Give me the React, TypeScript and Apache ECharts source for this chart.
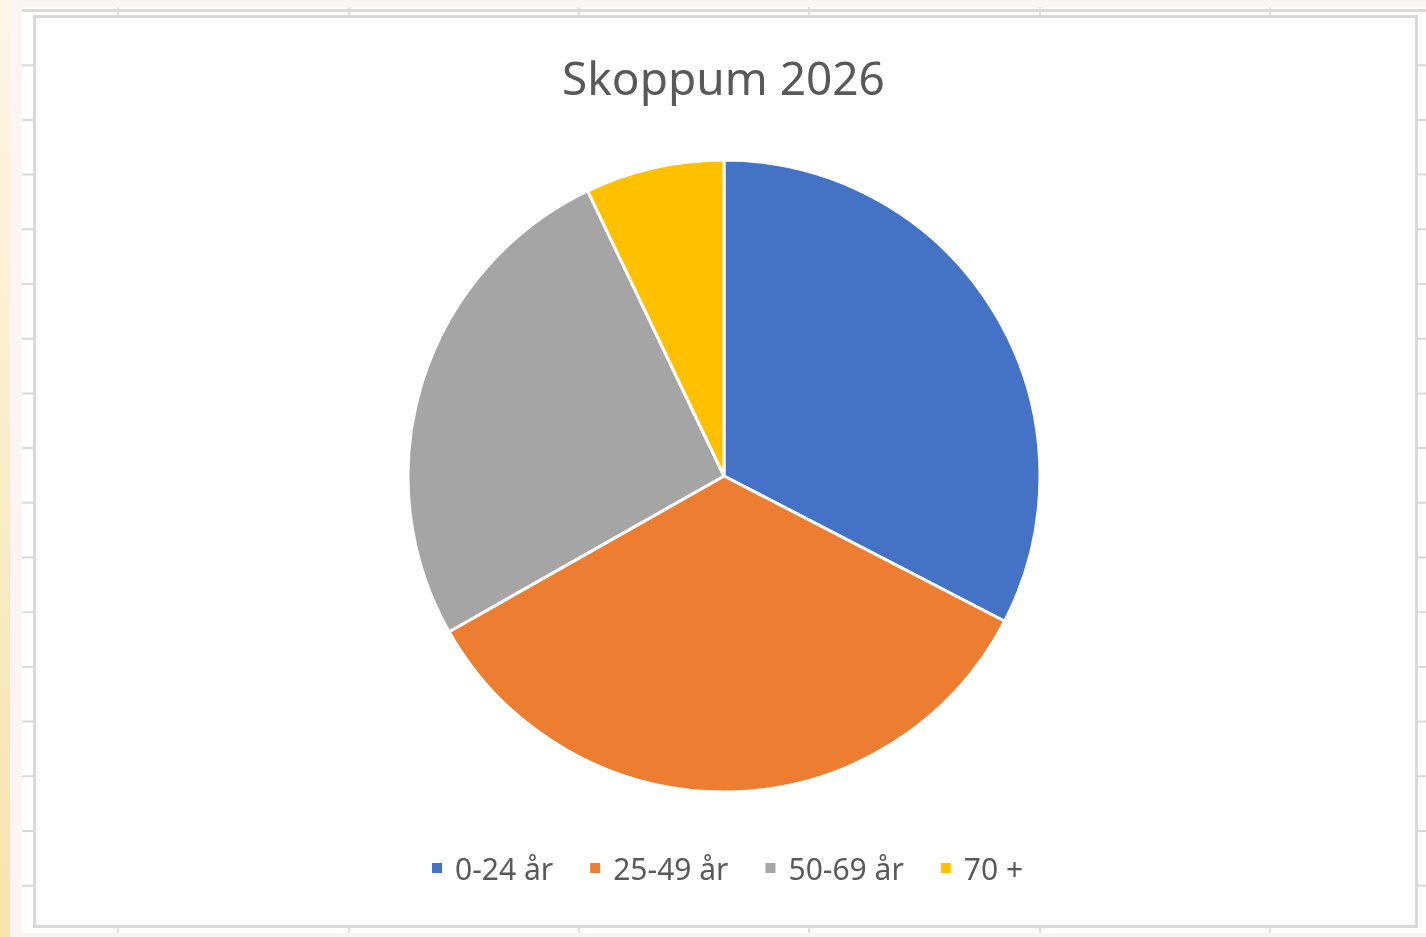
import React, { useEffect, useRef } from "react";
import * as echarts from "echarts";

const title = "Skoppum 2026";
const categories = ["0-24 år", "25-49 år", "50-69 år", "70 +"];
const values = [32.6, 34.2, 26.1, 7.1];
const colors = ["#4472C4", "#ED7D31", "#A5A5A5", "#FFC000"];

const rowLinesY = [10.5, 65.2, 119.9, 174.6, 229.3, 284, 338.7, 393.4, 448.1, 502.8, 557.5, 612.2, 666.9, 721.6, 776.3, 831, 885.7];
const colLinesX = [118, 349, 579, 809, 1040, 1270];

export default function App() {
  const ref = useRef<HTMLDivElement>(null);
  useEffect(() => {
    if (!ref.current) return;
    const chart = echarts.init(ref.current, null, { renderer: "svg" });
    const bg: any[] = [
      { type: "rect", shape: { x: 0, y: 0, width: 1426, height: 937 }, style: { fill: "#fbf4f4" }, silent: true },
      {
        type: "rect",
        shape: { x: 0, y: 0, width: 10, height: 937 },
        style: {
          fill: new echarts.graphic.LinearGradient(0, 0, 0, 1, [
            { offset: 0, color: "#fdf6e6" },
            { offset: 1, color: "#f8e2ad" },
          ]),
        },
        silent: true,
      },
      { type: "rect", shape: { x: 22, y: 7, width: 1404, height: 926 }, style: { fill: "#ffffff" }, silent: true },
    ];
    rowLinesY.forEach((y) =>
      bg.push({ type: "line", shape: { x1: 22, y1: y, x2: 1426, y2: y }, style: { stroke: "#dadada", lineWidth: y < 12 ? 3 : 2 }, silent: true })
    );
    colLinesX.forEach((x) =>
      bg.push({ type: "line", shape: { x1: x, y1: 7, x2: x, y2: 933 }, style: { stroke: "#dedede", lineWidth: 2 }, silent: true })
    );
    bg.push({
      type: "rect",
      shape: { x: 34.5, y: 16.5, width: 1382, height: 910 },
      style: { fill: "#ffffff", stroke: "#d9d9d9", lineWidth: 3 },
      silent: true,
    });

    chart.setOption({
      animation: false,
      backgroundColor: "transparent",
      color: colors,
      graphic: { elements: bg.map((e) => ({ ...e, z: -10, zlevel: 0 })) },
      title: {
        text: title,
        left: 557,
        top: 49,
        textStyle: { fontFamily: "Noto Sans", fontSize: 46, fontWeight: "normal", color: "#595959" },
      },
      legend: {
        data: categories,
        top: 848,
        left: 425,
        icon: "rect",
        itemWidth: 12,
        itemHeight: 12,
        itemGap: 35,
        textStyle: { fontFamily: "Noto Sans", fontSize: 30, color: "#595959", padding: [0, 0, 0, 7] },
      },
      series: [
        {
          type: "pie",
          center: [724, 476],
          radius: 316,
          startAngle: 90,
          clockwise: true,
          label: { show: false },
          labelLine: { show: false },
          itemStyle: { borderColor: "#ffffff", borderWidth: 3 },
          data: categories.map((c, i) => ({ name: c, value: values[i] })),
        },
      ],
    });
    return () => chart.dispose();
  }, []);
  return <div ref={ref} style={{ position: "fixed", left: 0, top: 0, width: 1426, height: 937 }} />;
}
